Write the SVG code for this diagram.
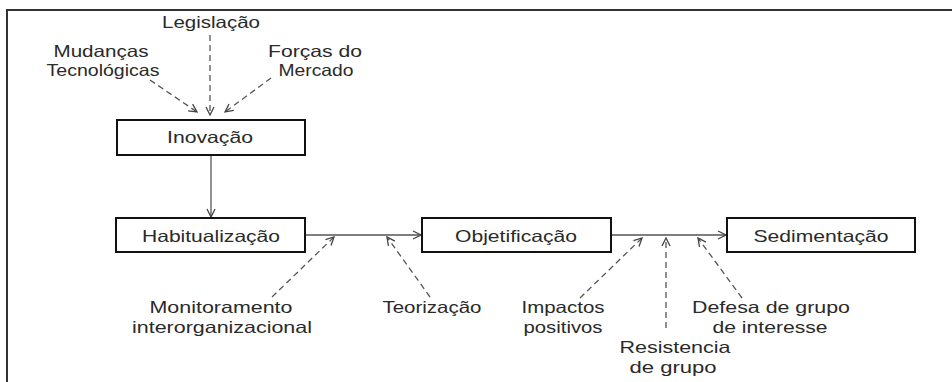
<svg xmlns="http://www.w3.org/2000/svg" width="952" height="382" viewBox="0 0 952 382">
<defs>
<marker id="ah" markerWidth="10" markerHeight="10" refX="9" refY="5" orient="auto" markerUnits="userSpaceOnUse">
<path d="M1,1 L9,5 L1,9" fill="none" stroke="#444" stroke-width="1.3"/>
</marker>
</defs>
<style>
text{font-family:"Liberation Sans",Arial,sans-serif;font-size:16.5px;fill:#2a2a2a;text-anchor:middle}
.box{fill:#fff;stroke:#111;stroke-width:2}
.solid{stroke:#555;stroke-width:1.3;fill:none}
.dash{stroke:#555;stroke-width:1.3;fill:none;stroke-dasharray:6,4}
.frame{stroke:#333;stroke-width:2;fill:none}
</style>
<rect width="952" height="382" fill="#fff"/>
<path class="frame" d="M7,382 L7,10 L952,10"/>
<g id="connectors">
<line class="solid" x1="211" y1="155" x2="211" y2="217" marker-end="url(#ah)"/>
<line class="solid" x1="305" y1="235" x2="421" y2="235" marker-end="url(#ah)"/>
<line class="solid" x1="611" y1="235" x2="726" y2="235" marker-end="url(#ah)"/>
<line class="dash" x1="210" y1="35" x2="210" y2="115" marker-end="url(#ah)"/>
<line class="dash" x1="150" y1="80" x2="197" y2="112" marker-end="url(#ah)"/>
<line class="dash" x1="271" y1="78" x2="225" y2="112" marker-end="url(#ah)"/>
<line class="dash" x1="272" y1="297" x2="334" y2="237" marker-end="url(#ah)"/>
<line class="dash" x1="430" y1="297" x2="387" y2="237" marker-end="url(#ah)"/>
<line class="dash" x1="580" y1="298" x2="642" y2="238" marker-end="url(#ah)"/>
<line class="dash" x1="666" y1="328" x2="666" y2="238" marker-end="url(#ah)"/>
<line class="dash" x1="742" y1="298" x2="698" y2="238" marker-end="url(#ah)"/>
</g>
<g id="inovacao">
<rect class="box" x="117" y="120" width="188" height="35"/>
<text x="210" y="143" textLength="86" lengthAdjust="spacingAndGlyphs">Inovação</text>
</g>
<g id="habitualizacao">
<rect class="box" x="116" y="218" width="189" height="34"/>
<text x="211" y="242" textLength="138" lengthAdjust="spacingAndGlyphs">Habitualização</text>
</g>
<g id="objetificacao">
<rect class="box" x="422" y="218" width="189" height="34"/>
<text x="516" y="242" textLength="122" lengthAdjust="spacingAndGlyphs">Objetificação</text>
</g>
<g id="sedimentacao">
<rect class="box" x="727" y="218" width="188" height="34"/>
<text x="821" y="242" textLength="135" lengthAdjust="spacingAndGlyphs">Sedimentação</text>
</g>
<g id="legislacao">
<text x="211" y="28" textLength="98" lengthAdjust="spacingAndGlyphs">Legislação</text>
</g>
<g id="mudancas">
<text x="101" y="57" textLength="95" lengthAdjust="spacingAndGlyphs">Mudanças</text>
<text x="103" y="76" textLength="113" lengthAdjust="spacingAndGlyphs">Tecnológicas</text>
</g>
<g id="forcas">
<text x="315" y="57" textLength="94" lengthAdjust="spacingAndGlyphs">Forças do</text>
<text x="316" y="76" textLength="75" lengthAdjust="spacingAndGlyphs">Mercado</text>
</g>
<g id="monitoramento">
<text x="221" y="313" textLength="143" lengthAdjust="spacingAndGlyphs">Monitoramento</text>
<text x="222" y="333" textLength="180" lengthAdjust="spacingAndGlyphs">interorganizacional</text>
</g>
<g id="teorizacao">
<text x="432" y="313" textLength="99" lengthAdjust="spacingAndGlyphs">Teorização</text>
</g>
<g id="impactos">
<text x="563" y="313" textLength="83" lengthAdjust="spacingAndGlyphs">Impactos</text>
<text x="563" y="333" textLength="79" lengthAdjust="spacingAndGlyphs">positivos</text>
</g>
<g id="resistencia">
<text x="675" y="353" textLength="111" lengthAdjust="spacingAndGlyphs">Resistencia</text>
<text x="673" y="373" textLength="87" lengthAdjust="spacingAndGlyphs">de grupo</text>
</g>
<g id="defesa">
<text x="771" y="313" textLength="158" lengthAdjust="spacingAndGlyphs">Defesa de grupo</text>
<text x="770" y="333" textLength="115" lengthAdjust="spacingAndGlyphs">de interesse</text>
</g>
</svg>
